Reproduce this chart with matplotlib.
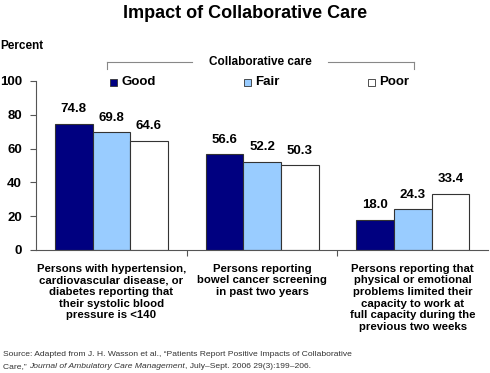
"""Impact of Collaborative Care: grouped bar chart."""

import matplotlib.pyplot as plt
import numpy as np

plt.rcParams["font.family"] = ["Liberation Sans", "DejaVu Sans"]

categories = [
    "Persons with hypertension,\ncardiovascular disease, or\ndiabetes reporting that\ntheir systolic blood\npressure is <140",
    "Persons reporting\nbowel cancer screening\nin past two years",
    "Persons reporting that\nphysical or emotional\nproblems limited their\ncapacity to work at\nfull capacity during the\nprevious two weeks",
]
series_names = ["Good", "Fair", "Poor"]
good = [74.8, 56.6, 18.0]
fair = [69.8, 52.2, 24.3]
poor = [64.6, 50.3, 33.4]
y_ticks = [0, 20, 40, 60, 80, 100]

colors = ["#000080", "#99CCFF", "#FFFFFF"]

W, H = 490, 373
fig = plt.figure(figsize=(W / 100, H / 100), dpi=100)
ax = fig.add_axes([36 / W, 1 - 250 / H, 452 / W, 169 / H])

x = np.arange(len(categories))
width = 0.25
for i, (vals, col) in enumerate(zip([good, fair, poor], colors)):
    pos = x + (i - 1) * width
    ax.bar(pos, vals, width, color=col, edgecolor="#333333", linewidth=0.8)
    for px, v in zip(pos, vals):
        ax.annotate(f"{v:.1f}", (px, v), xytext=(0, 6), textcoords="offset points",
                    ha="center", va="bottom", fontsize=9.5, fontweight="bold")

ax.set_xlim(-0.5, 2.5)
ax.set_ylim(0, 100)
ax.set_yticks(y_ticks)
ax.set_yticklabels([str(t) for t in y_ticks], fontsize=9.5, fontweight="bold")
ax.set_xticks([0.5, 1.5])
ax.set_xticklabels([])
ax.tick_params(axis="x", direction="out", length=4, color="#555555")
ax.tick_params(axis="y", direction="out", length=4, color="#555555", pad=6)
for side in ["top", "right"]:
    ax.spines[side].set_visible(False)
ax.spines["left"].set_color("#555555")
ax.spines["bottom"].set_color("#555555")

for xi, label in zip(x, categories):
    ax.annotate(label, (xi, 0), xytext=(0, -10), textcoords="offset points",
                ha="center", va="top", fontsize=8.2, fontweight="bold", linespacing=1.2)

# title and headers
fig.text(245 / W, 1 - 14 / H, "Impact of Collaborative Care", ha="center", va="center",
         fontsize=13, fontweight="bold")
fig.text(0, 1 - 46 / H, "Percent", ha="left", va="center", fontsize=8.5, fontweight="bold")

# legend bracket
by = 1 - 62 / H
fig.add_artist(plt.Line2D([107 / W, 192 / W], [by, by], color="#888888", lw=0.8))
fig.add_artist(plt.Line2D([328 / W, 414 / W], [by, by], color="#888888", lw=0.8))
fig.add_artist(plt.Line2D([107 / W, 107 / W], [by, by - 7 / H], color="#888888", lw=0.8))
fig.add_artist(plt.Line2D([414 / W, 414 / W], [by, by - 7 / H], color="#888888", lw=0.8))
fig.text(260 / W, by, "Collaborative care", ha="center", va="center", fontsize=8.5, fontweight="bold")

ly = 1 - 82 / H
for name, col, lx in zip(series_names, colors, [110, 244, 368]):
    fig.add_artist(plt.Rectangle((lx / W, ly - 3.5 / H), 7 / W, 7 / H, facecolor=col,
                                 edgecolor="#333333", lw=0.6, transform=fig.transFigure))
    fig.text((lx + 11) / W, ly, name, ha="left", va="center", fontsize=9.5, fontweight="bold")

# source
fig.text(3 / W, 1 - 355 / H,
         "Source: Adapted from J. H. Wasson et al., \u201cPatients Report Positive Impacts of Collaborative",
         ha="left", va="center", fontsize=6.1, color="#333333")
t1 = fig.text(3 / W, 1 - 367 / H, "Care,\u201d ", ha="left", va="center", fontsize=6.1, color="#333333")
fig.canvas.draw()
r = fig.canvas.get_renderer()
x1 = t1.get_window_extent(r).x1
t2 = fig.text(x1 / W, 1 - 367 / H, "Journal of Ambulatory Care Management", ha="left", va="center",
              fontsize=6.1, style="italic", color="#333333")
x2 = t2.get_window_extent(r).x1
fig.text(x2 / W, 1 - 367 / H, ", July\u2013Sept. 2006 29(3):199\u2013206.", ha="left", va="center",
         fontsize=6.1, color="#333333")

fig.savefig("out.png", dpi=100)
